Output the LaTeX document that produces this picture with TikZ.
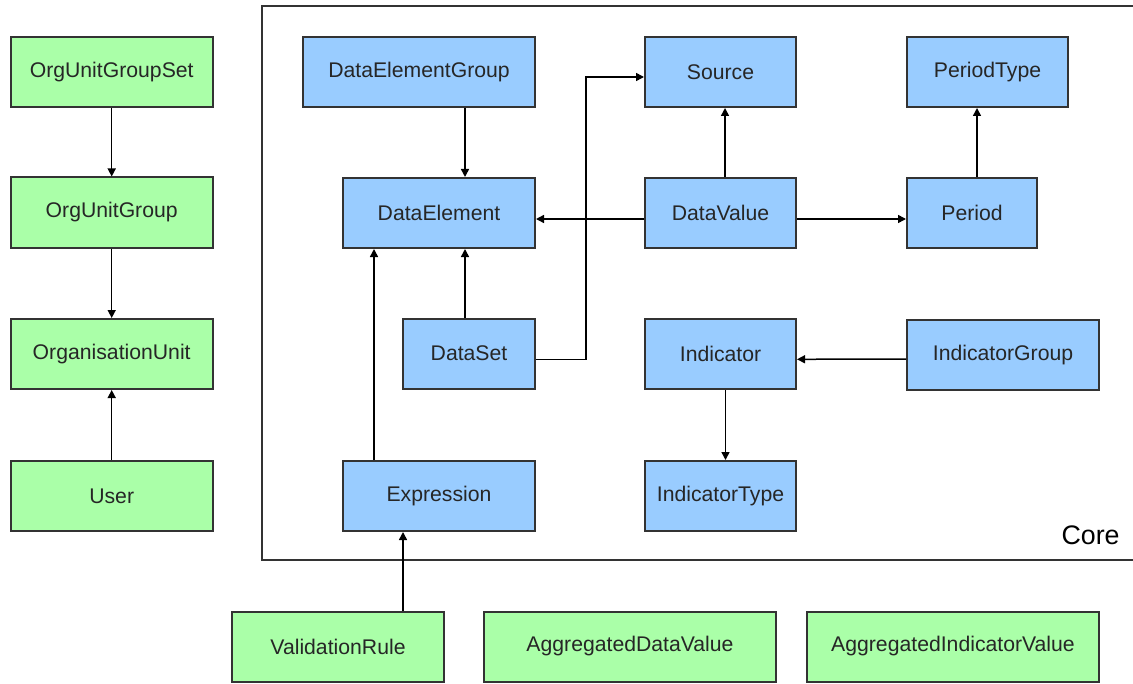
\documentclass[tikz,border=0pt]{standalone}
\usepackage{fontspec}
\setmainfont{Liberation Sans}
\usetikzlibrary{arrows.meta}
\definecolor{boxblue}{HTML}{99CCFF}
\definecolor{boxgreen}{HTML}{AAFFA8}
\definecolor{edgegray}{HTML}{333333}
\begin{document}
\begin{tikzpicture}[x=0.5pt,y=-0.5pt,
  ent/.style={draw=edgegray,line width=1pt,inner sep=0pt,minimum height=35pt,
    font=\fontsize{10.6pt}{12pt}\selectfont,text=black!85},
  corebox/.style={ent,fill=boxblue},
  extbox/.style={ent,fill=boxgreen},
  arr/.style={-{Triangle[length=4pt,width=4pt]},line width=0.75pt,black}]
\clip (0,0) rectangle (1133,684);
\fill[white] (0,0) rectangle (1133,684);
% Core frame
\draw[line width=0.9pt,edgegray] (262,6) rectangle (1160,560);
\node[anchor=base east,inner sep=0pt,font=\fontsize{13.4pt}{15pt}\selectfont,text=black] (corelbl) at (1120,544) {Core};
% left column
\node[extbox,minimum width=101pt] (ougs) at (111.7,72) {OrgUnitGroupSet};
\node[extbox,minimum width=101pt] (oug) at (111.7,212.5) {OrgUnitGroup};
\node[extbox,minimum width=101pt] (ou) at (111.7,354) {OrganisationUnit};
\node[extbox,minimum width=101pt] (user) at (111.7,496) {User};
% core boxes
\node[corebox,minimum width=116pt] (deg) at (419,72) {DataElementGroup};
\node[corebox,minimum width=96pt] (de) at (439,213) {DataElement};
\node[corebox,minimum width=66pt] (ds) at (469,353.5) {DataSet};
\node[corebox,minimum width=96pt] (expr) at (439,496) {Expression};
\node[corebox,minimum width=75.5pt] (src) at (720.5,72) {Source};
\node[corebox,minimum width=75.5pt] (dv) at (720.5,213) {DataValue};
\node[corebox,minimum width=75.5pt] (ind) at (720.5,354) {Indicator};
\node[corebox,minimum width=75.5pt] (it) at (720.5,496) {IndicatorType};
\node[corebox,minimum width=80.5pt] (pt) at (987.5,72) {PeriodType};
\node[corebox,minimum width=65pt] (per) at (972,213) {Period};
\node[corebox,minimum width=96pt] (ig) at (1003,355) {IndicatorGroup};
% bottom row
\node[extbox,minimum width=106pt] (vr) at (338,647) {ValidationRule};
\node[extbox,minimum width=146.3pt] (adv) at (630,646.5) {AggregatedDataValue};
\node[extbox,minimum width=146.2pt] (aiv) at (953,646.5) {AggregatedIndicatorValue};
% connectors
\draw[arr] (ougs.south) -- (oug.north);
\draw[arr] (oug.south) -- (ou.north);
\draw[arr] (user.north) -- (ou.south);
\draw[arr] ([xshift=23pt]deg.south) -- ([xshift=13pt]de.north);
\draw[arr] ([xshift=-2pt]ds.north) -- ([xshift=13pt]de.south);
\draw[arr] ([xshift=-32.5pt]expr.north) -- ([xshift=-32.5pt]de.south);
\draw[arr] ([xshift=32.5pt]vr.north) -- ([xshift=-18pt]expr.south);
\draw[arr] ([xshift=2.25pt]dv.north) -- ([xshift=2.25pt]src.south);
\draw[arr] ([xshift=2.5pt]per.north) -- ([xshift=-5.25pt]pt.south);
\draw[arr] ([xshift=2.5pt]ind.south) -- ([xshift=2.5pt]it.north);
\draw[arr] ([yshift=-3pt]dv.west) -- ([yshift=-3pt]de.east);
\draw[arr] ([yshift=-3pt]dv.east) -- ([yshift=-3pt]per.west);
\draw[arr] ([yshift=-2pt]ig.west) -- ([yshift=-2.65pt]ind.east);
\draw[arr] ([yshift=-2.9pt]ds.east) -- ++(25pt,0) |- ([yshift=-2.5pt]src.west);
\end{tikzpicture}
\end{document}
